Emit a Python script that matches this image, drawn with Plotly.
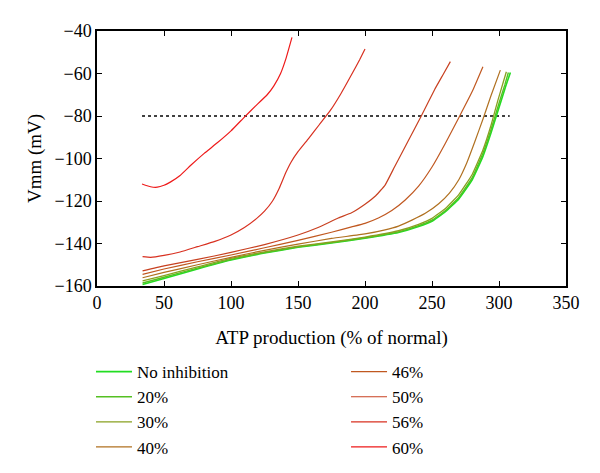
import plotly.graph_objects as go

# ---- data ----
names = ["No inhibition", "20%", "30%", "40%", "46%", "50%", "56%", "60%"]
colors = ["#22dd22", "#55c022", "#88a020", "#b07020", "#c05820", "#c84020", "#d83020", "#ee1a1a"]

x_none = [34, 50, 75, 100, 125, 150, 175, 200, 225, 240, 250, 260, 270, 280, 288, 294, 300, 305, 308.5]
y_none = [-159.3, -156.5, -152, -147.8, -144.5, -141.8, -139.8, -137.5, -134.8, -132, -129.5, -125, -119, -110, -99, -88, -76, -66, -59.5]

x_20 = [34, 50, 75, 100, 125, 150, 175, 200, 225, 240, 250, 260, 270, 280, 288, 294, 300, 304.5, 307]
y_20 = [-158.6, -155.9, -151.6, -147.5, -144.3, -141.6, -139.6, -137.3, -134.5, -131.6, -129, -124.5, -118.3, -109, -97.5, -86.5, -74, -65, -59.5]

x_30 = [34, 50, 75, 100, 125, 150, 175, 200, 225, 240, 250, 260, 270, 280, 288, 294, 299, 303, 305.5]
y_30 = [-157.6, -155.1, -151, -147, -143.9, -141.3, -139.3, -137, -134, -131, -128.2, -123.5, -117, -107.5, -96, -84.5, -73, -64.5, -59.2]

x_40 = [34, 50, 75, 100, 125, 150, 175, 200, 215, 225, 235, 245, 255, 263, 270, 276, 282, 288, 294, 301]
y_40 = [-156.1, -153.6, -150, -146.5, -143.2, -140.3, -137.6, -135.5, -133.6, -131.8, -129, -125.8, -121.3, -116.3, -110, -102, -92, -81.5, -70.5, -58.4]

x_46 = [34, 50, 75, 100, 125, 150, 175, 190, 200, 210, 220, 230, 240, 250, 260, 270, 280, 288]
y_46 = [-154.5, -152, -148.6, -145.4, -142, -138.5, -134.7, -132.2, -130.5, -128, -124.5, -119.5, -113, -104, -92.8, -80.8, -68.5, -56.8]

x_50 = [34, 50, 75, 100, 125, 150, 165, 180, 190, 200, 208, 215, 222, 232, 242, 252, 258, 263.7]
y_50 = [-152.9, -150.5, -147.5, -144.2, -140.5, -136, -132.5, -128, -125.5, -121.5, -117.5, -112.5, -104, -92, -80, -67.5, -60.8, -54.4]

x_56 = [34, 40, 50, 62, 75, 88, 100, 110, 119, 125, 131, 136, 141, 145, 150, 158, 166, 174, 182, 190, 196, 200]
y_56 = [-146.2, -146.5, -145.6, -144, -141.5, -139, -136, -132.5, -128.3, -124.8, -120, -114, -106.5, -101.5, -96.8, -90.5, -84, -77.5, -69.5, -60.5, -53.5, -48.5]

x_60 = [33.6, 40, 45, 50, 55, 62, 70, 80, 90, 100, 110, 118, 127, 132, 137, 141, 145.5]
y_60 = [-112, -113.3, -113.5, -112.6, -111, -108, -103.2, -97.6, -92.5, -87, -80.5, -75.5, -70, -65.8, -60, -53, -43]

ref_x = [33.6, 308]
ref_y = [-80, -80]

xs = [x_none, x_20, x_30, x_40, x_46, x_50, x_56, x_60]
ys = [y_none, y_20, y_30, y_40, y_46, y_50, y_56, y_60]
widths = [1.6, 1.4, 1.3, 1.2, 1.2, 1.2, 1.2, 1.2]

x_ticks = [0, 50, 100, 150, 200, 250, 300, 350]
y_ticks = [-160, -140, -120, -100, -80, -60, -40]

FONT = "Liberation Serif"

fig = go.Figure()
fig.add_trace(go.Scatter(x=ref_x, y=ref_y, mode="lines", showlegend=False,
                         line=dict(color="black", width=1.3, dash="dot")))
for i, (n, c, x, y, w) in enumerate(zip(names, colors, xs, ys, widths)):
    fig.add_trace(go.Scatter(x=x, y=y, mode="lines", name=n,
                             line=dict(color=c, width=w, shape="spline", smoothing=0.35),
                             legend="legend" if i < 4 else "legend2"))

axis_common = dict(showline=True, linecolor="black", linewidth=1.5, mirror="allticks",
                   ticks="inside", ticklen=5, tickwidth=1.2, tickcolor="black",
                   showgrid=False, zeroline=False, automargin=False,
                   tickfont=dict(family=FONT, size=18, color="black"))

fig.update_layout(
    width=600, height=473,
    margin=dict(l=97, r=34, t=31, b=187, autoexpand=False),
    plot_bgcolor="white", paper_bgcolor="white",
    font=dict(family=FONT, size=18, color="black"),
    xaxis=dict(range=[0, 350], tickvals=x_ticks, **axis_common,
               title=dict(text="ATP production (% of normal)", font=dict(family=FONT, size=19), standoff=18)),
    yaxis=dict(range=[-160, -40], tickvals=y_ticks, **axis_common,
               title=dict(text="Vmm (mV)", font=dict(family=FONT, size=19), standoff=8)),
    legend=dict(x=-0.0128, y=-0.267, xanchor="left", yanchor="top", bgcolor="rgba(0,0,0,0)",
                font=dict(family=FONT, size=17), tracegroupgap=0, itemwidth=36),
    legend2=dict(x=0.531, y=-0.267, xanchor="left", yanchor="top", bgcolor="rgba(0,0,0,0)",
                 font=dict(family=FONT, size=17), tracegroupgap=0, itemwidth=36),
)

fig.write_html("out.html", config={"displayModeBar": False},
               post_script="document.body.style.margin='0';")
